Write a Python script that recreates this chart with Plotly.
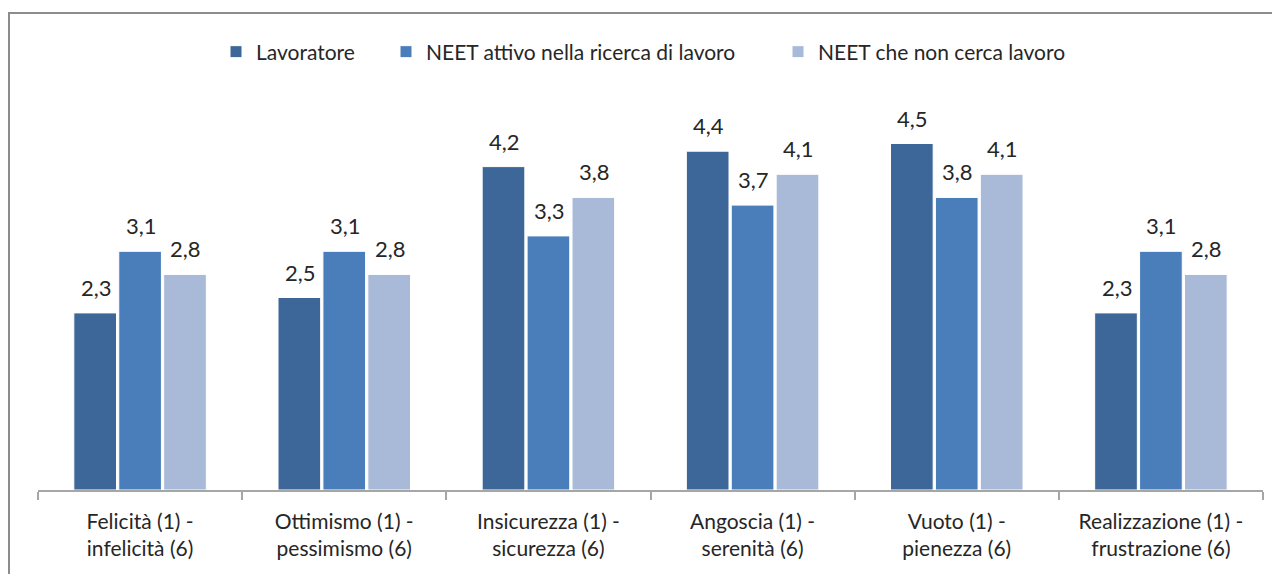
import plotly.graph_objects as go

categories = ["Felicità (1) -<br>infelicità (6)", "Ottimismo (1) -<br>pessimismo (6)",
              "Insicurezza (1) -<br>sicurezza (6)", "Angoscia (1) -<br>serenità (6)",
              "Vuoto (1) -<br>pienezza (6)", "Realizzazione (1) -<br>frustrazione (6)"]
series_names = ["Lavoratore", "NEET attivo nella ricerca di lavoro", "NEET che non cerca lavoro"]
lavoratore = [2.3, 2.5, 4.2, 4.4, 4.5, 2.3]
neet_attivo = [3.1, 3.1, 3.3, 3.7, 3.8, 3.1]
neet_non_cerca = [2.8, 2.8, 3.8, 4.1, 4.1, 2.8]
colors = ["#3D6798", "#4A7EBB", "#A9BAD8"]

FONT = "Lato, Open Sans, sans-serif"
TXT = "#262626"
W, H = 1280, 574
L, R, T, B = 30, 25, 97, 92
plot_w = W - L - R
plot_h = H - T - B

# legend text start positions (figure px)
legend_text_x = [248, 418, 810]
legend_names = ["legend", "legend2", "legend3"]

fig = go.Figure()
all_series = [lavoratore, neet_attivo, neet_non_cerca]
for name, vals, col, lg in zip(series_names, all_series, colors, legend_names):
    fig.add_trace(go.Bar(
        name=name, x=categories, y=vals, legend=lg,
        marker=dict(color=col, line=dict(color="white", width=1)),
    ))

# data labels
slot = plot_w / 6 * (1 - 0.34) / 3
for i, vals in enumerate(all_series):
    for c, v in zip(categories, vals):
        fig.add_annotation(
            x=c, y=v, text=f"{v:.1f}".replace(".", ","),
            showarrow=False, yanchor="bottom", yshift=10,
            xshift=(i - 1) * slot + 1,
            font=dict(family=FONT, size=22, color=TXT),
        )

# outer border
fig.add_shape(type="rect", xref="paper", yref="paper",
              x0=(1 - L) / plot_w, x1=(W + 20 - L) / plot_w,
              y0=-(H + 20 - (H - B)) / plot_h, y1=(H - B - 5) / plot_h,
              line=dict(color="#8C8C8C", width=2), fillcolor="rgba(0,0,0,0)", layer="below")

legend_common = dict(orientation="h", yanchor="middle", y=(H - B - 44) / plot_h,
                     xanchor="left", font=dict(family=FONT, size=21, color=TXT),
                     itemwidth=30, bgcolor="rgba(0,0,0,0)")
legends = {}
for lg, tx in zip(legend_names, legend_text_x):
    legends[lg] = dict(legend_common, x=(tx - 40 - L) / plot_w)

fig.update_layout(
    width=W, height=H,
    margin=dict(l=L, r=R, t=T, b=B),
    paper_bgcolor="white", plot_bgcolor="white",
    barmode="group", bargap=0.34, bargroupgap=0.05,
    font=dict(family=FONT, size=21, color=TXT),
    showlegend=True,
    xaxis=dict(showline=True, linecolor="#A6A6A6", linewidth=1.5,
               ticks="outside", tickson="boundaries", ticklen=8, tickcolor="#A6A6A6",
               tickwidth=1.5, ticklabelstandoff=12,
               tickfont=dict(family=FONT, size=21, color=TXT),
               showgrid=False, zeroline=False),
    yaxis=dict(range=[0, 5], visible=False, showgrid=False, zeroline=False),
    **legends,
)

fig.write_html("out.html")
